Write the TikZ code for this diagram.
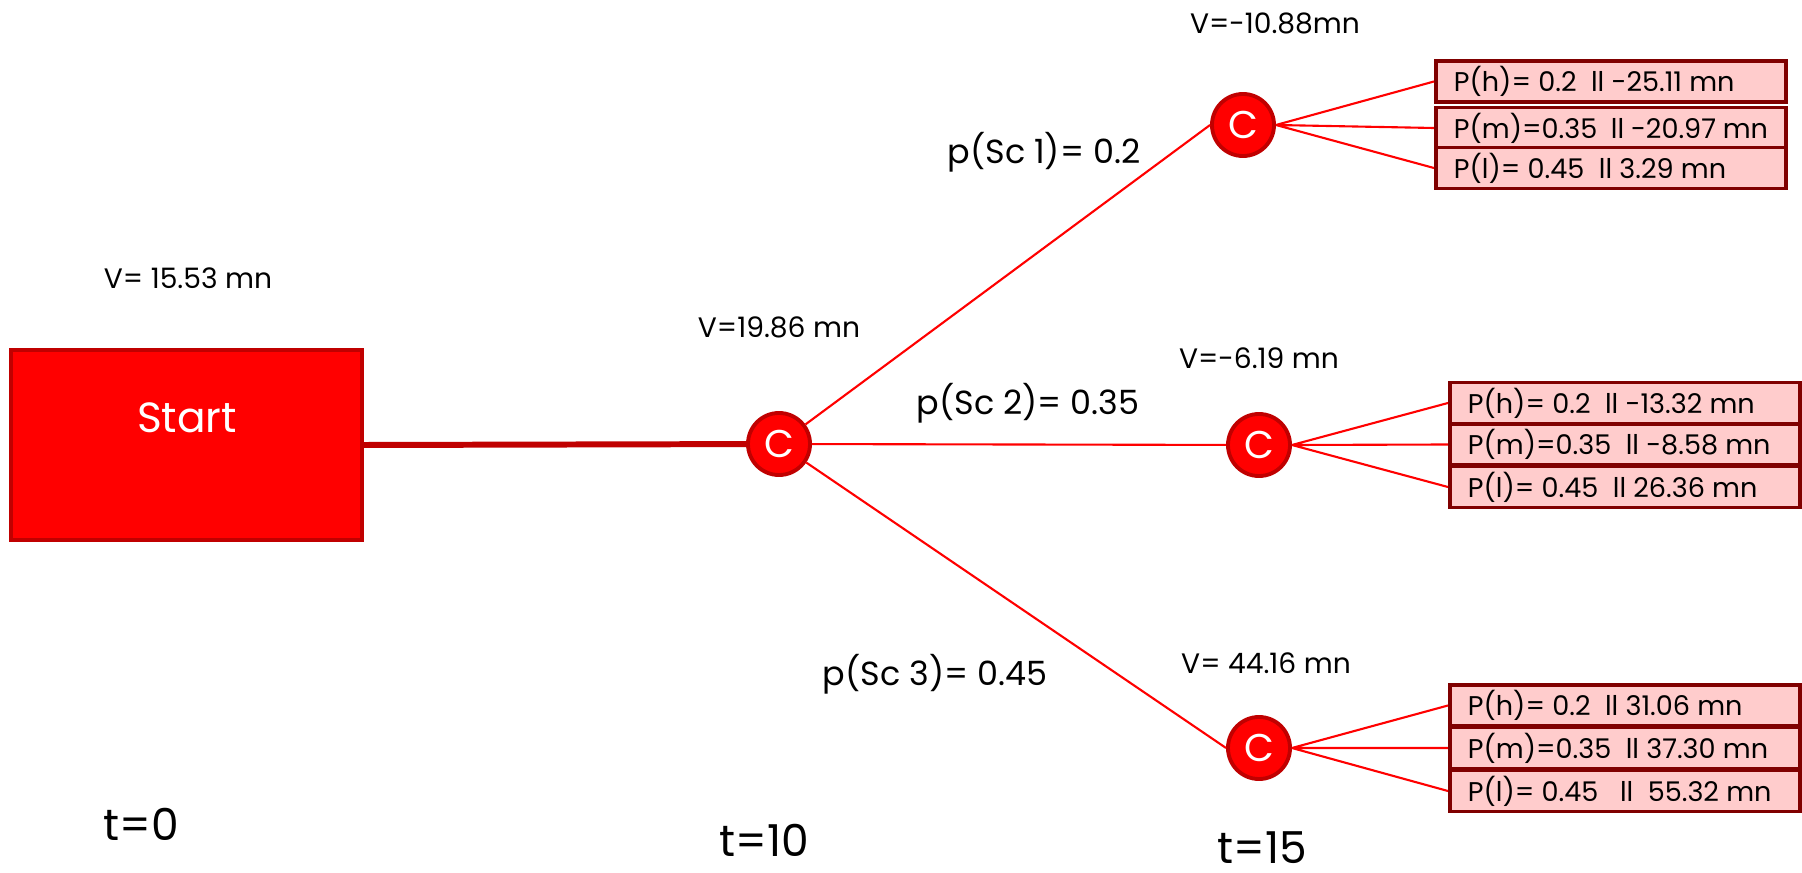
\documentclass[tikz,border=0pt]{standalone}
\usepackage{fontspec}
\setmainfont{Poppins}
\usepackage{tikz}
\usetikzlibrary{positioning}
\definecolor{treered}{RGB}{255, 0, 0}
\definecolor{darkred}{RGB}{192, 0, 0}
\definecolor{boxborder}{RGB}{128, 0, 0}
\definecolor{boxfill}{RGB}{255, 204, 204}

\begin{document}
\begin{tikzpicture}[x=0.01cm, y=-0.01cm,
    chance/.style={circle, fill=treered, draw=darkred, line width=1.1pt, minimum size=0.62cm, inner sep=0pt, text=white, font=\fontsize{11}{11}\selectfont},
    outcome/.style={rectangle, fill=boxfill, draw=boxborder, line width=1.1pt, minimum height=0.41cm, inner xsep=0.18cm, inner ysep=0pt, font=\fontsize{7.7}{7.7}\selectfont,
        execute at begin node={\hbox to 3.14cm\bgroup}, execute at end node={\hfil\egroup}},
    branch/.style={draw=treered, line width=0.6pt},
    vlabel/.style={font=\fontsize{8}{8}\selectfont},
    plabel/.style={font=\fontsize{9.5}{9.5}\selectfont},
    tlabel/.style={inner sep=0pt, font=\fontsize{12.5}{12.5}\selectfont}]
    \useasboundingbox (0, 0) rectangle (1802, 873);

    % Start box
    \node[draw=darkred, fill=treered, line width=1.2pt, minimum width=3.51cm, minimum height=1.90cm] (Start) at (186.5, 445) {};
    \node[text=white, font=\fontsize{12}{12}\selectfont] (StartText) at (187, 418) {Start};

    % Chance nodes
    \node[chance] (C0) at (779, 444) {C};
    \node[chance] (C1) at (1243, 125) {C};
    \node[chance] (C2) at (1259, 445) {C};
    \node[chance] (C3) at (1259, 748) {C};

    % Outcome boxes
    \node[outcome] (H1) at (1611, 81.5) {P(h)= 0.2\ \ ll -25.11 mn};
    \node[outcome] (M1) at (1611, 128) {P(m)=0.35\ \ ll -20.97 mn};
    \node[outcome] (L1) at (1611, 168) {P(l)= 0.45\ \ ll 3.29 mn};
    \node[outcome] (H2) at (1625, 403) {P(h)= 0.2\ \ ll -13.32 mn};
    \node[outcome] (M2) at (1625, 444.5) {P(m)=0.35\ \ ll -8.58 mn};
    \node[outcome] (L2) at (1625, 487) {P(l)= 0.45\ \ ll 26.36 mn};
    \node[outcome] (H3) at (1625, 705.5) {P(h)= 0.2\ \ ll 31.06 mn};
    \node[outcome] (M3) at (1625, 748) {P(m)=0.35\ \ ll 37.30 mn};
    \node[outcome] (L3) at (1625, 791) {P(l)= 0.45\ \ \ ll\ \ 55.32 mn};

    % Branches
    \draw[darkred, line width=1.7pt] (Start.east) -- (C0);
    \draw[branch] (C0) -- (C1.west);
    \draw[branch] (C0) -- (C2);
    \draw[branch] (C0) -- (C3.west);
    \foreach \i in {1, 2, 3}
        \draw[branch] (C\i.east) -- (H\i.west) (C\i.east) -- (M\i.west) (C\i.east) -- (L\i.west);

    % Values and probabilities
    \node[vlabel] (V0) at (188, 278) {V= 15.53 mn};
    \node[vlabel] (VC0) at (779, 327) {V=19.86 mn};
    \node[vlabel] (V1) at (1275, 23) {V=-10.88mn};
    \node[vlabel] (V2) at (1259, 358) {V=-6.19 mn};
    \node[vlabel] (V3) at (1266, 663) {V= 44.16 mn};
    \node[plabel] (P1) at (1044, 152) {p(Sc 1)= 0.2};
    \node[plabel] (P2) at (1028, 403) {p(Sc 2)= 0.35};
    \node[plabel] (P3) at (935, 674) {p(Sc 3)= 0.45};

    % Time stages
    \node[tlabel] (T0) at (141, 824) {t=0};
    \node[tlabel] (T10) at (764, 840) {t=10};
    \node[tlabel] (T15) at (1262, 848) {t=15};
\end{tikzpicture}
\end{document}
